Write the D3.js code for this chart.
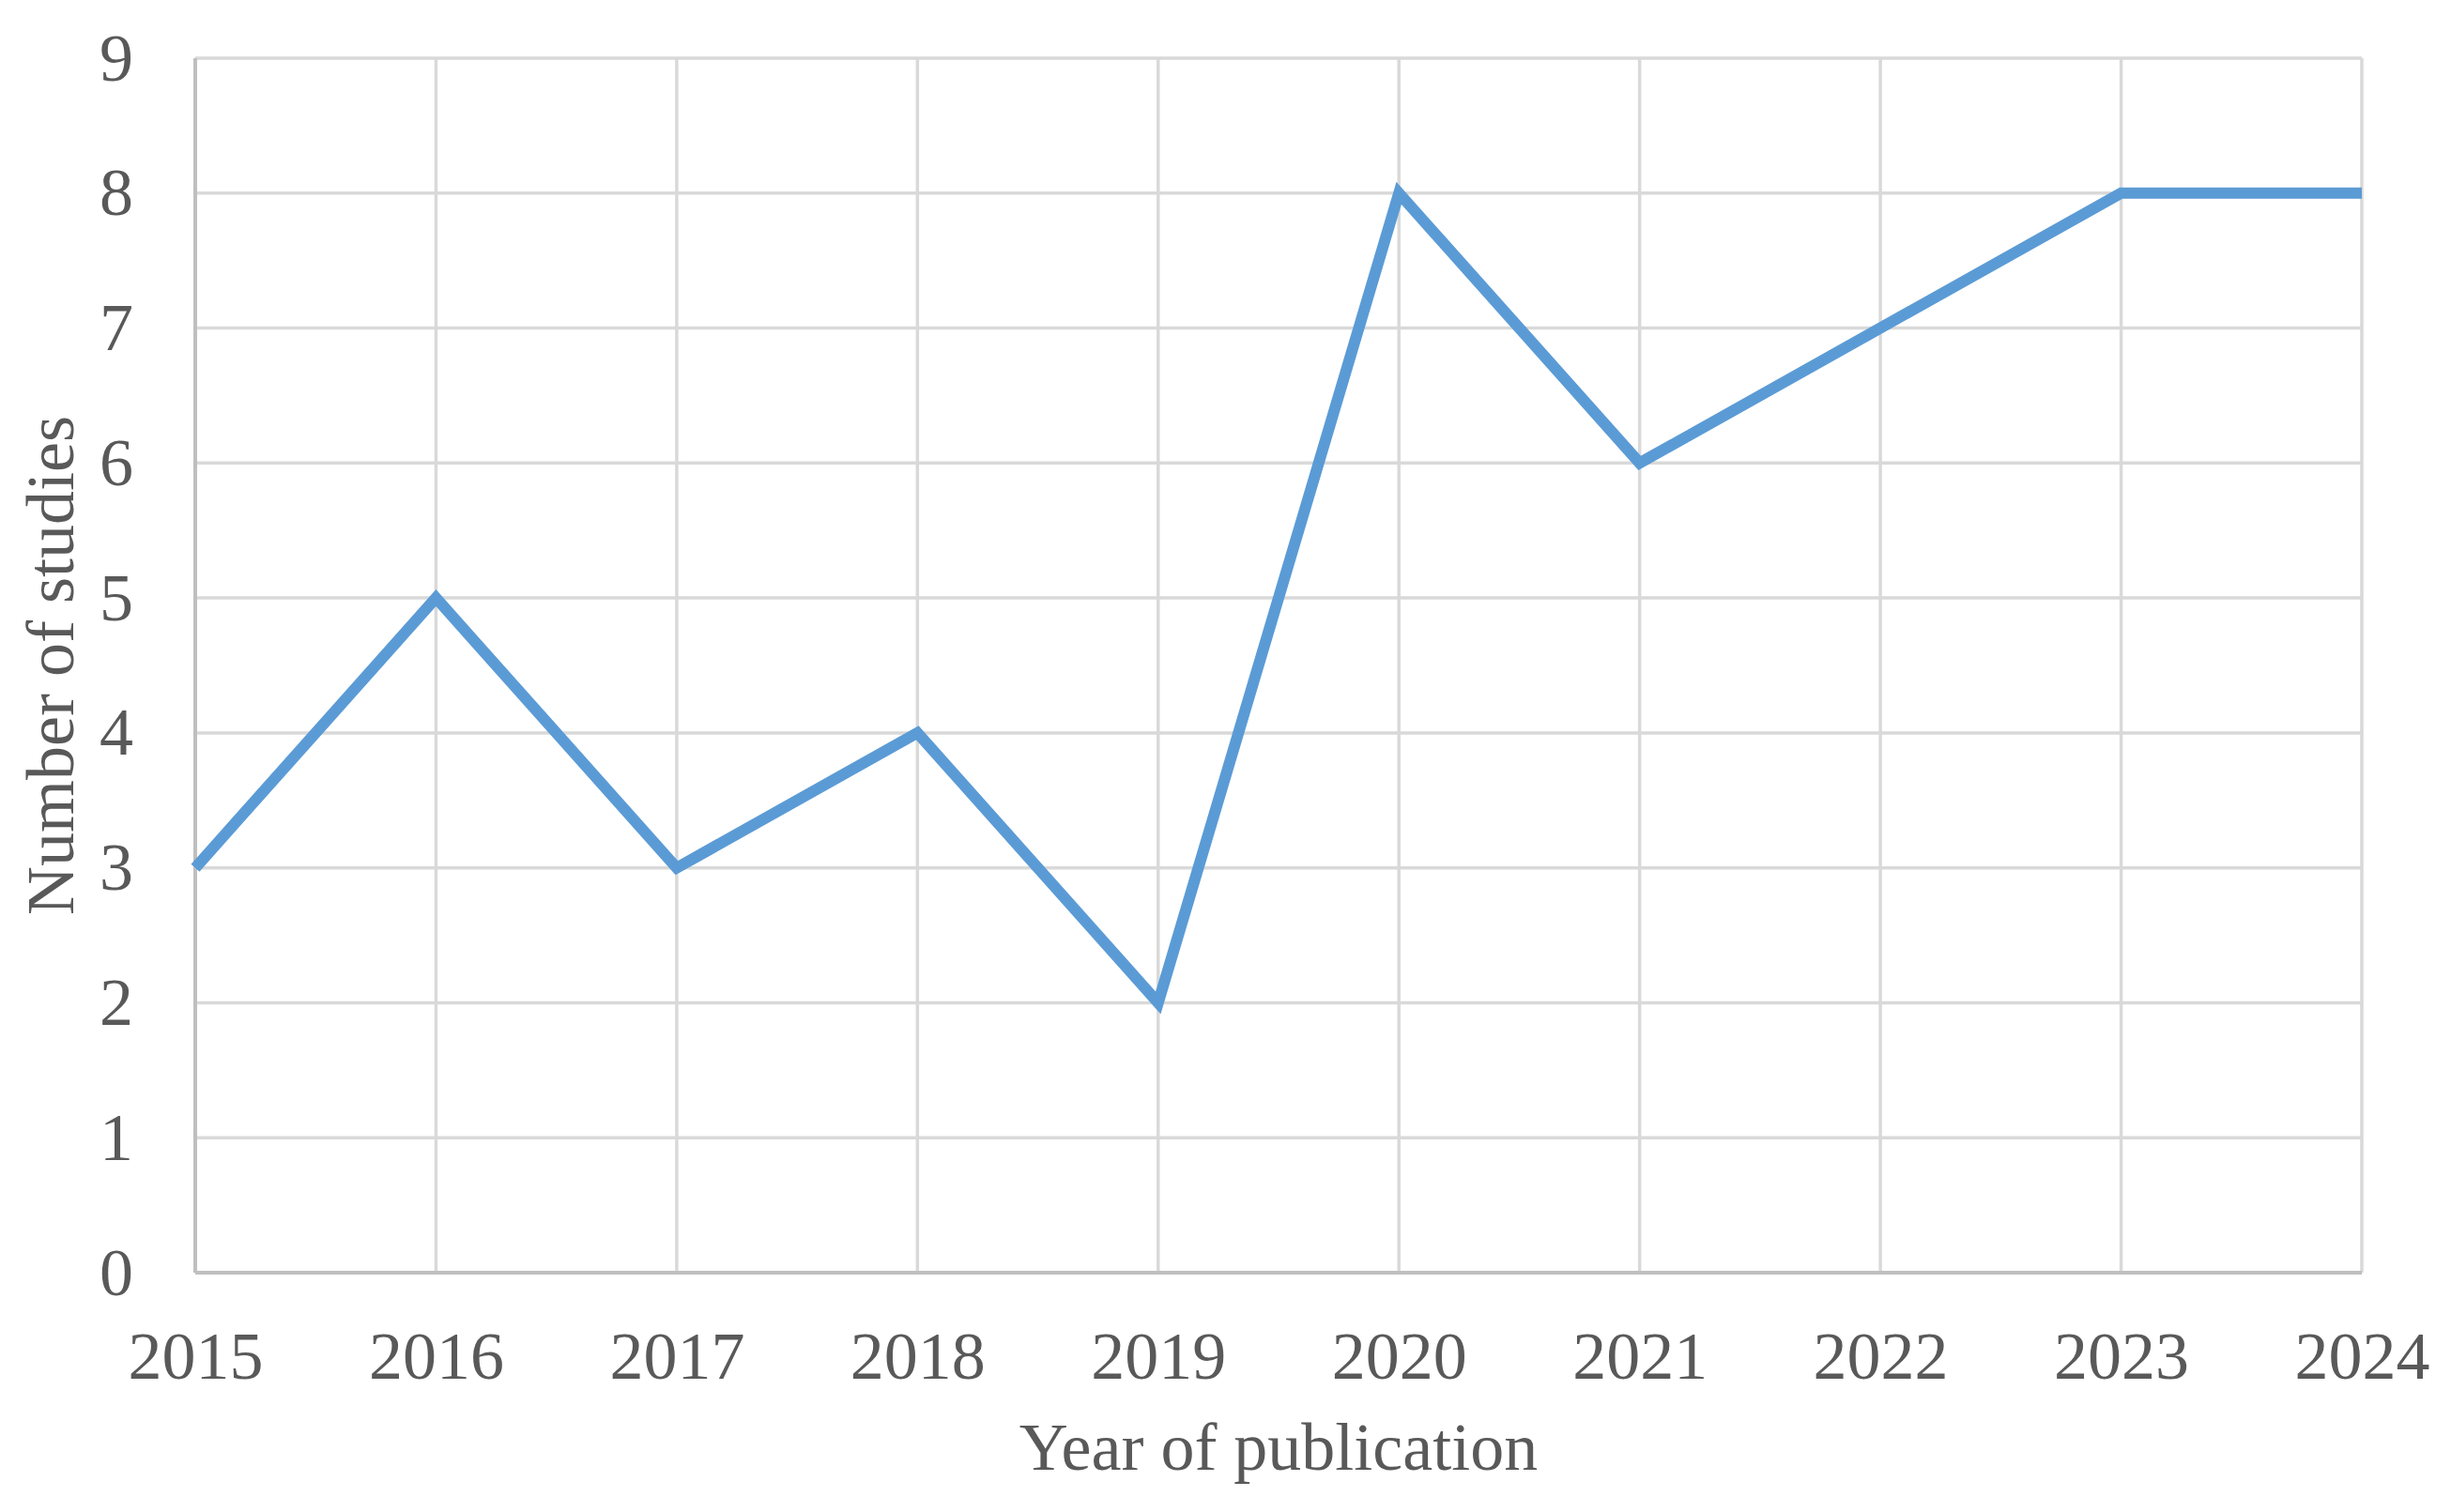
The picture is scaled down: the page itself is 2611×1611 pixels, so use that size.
<!DOCTYPE html>
<html>
<head>
<meta charset="utf-8">
<script src="https://cdn.jsdelivr.net/npm/d3@7"></script>
<style>
  body { margin: 0; background: #fff; }
  text { font-family: "Liberation Serif", "Times New Roman", serif; fill: #595959; }
</style>
</head>
<body>
<svg id="chart" width="2611" height="1611"></svg>
<script>
/* -------------------------------------------------------------------------- */
// data
const years = [2015, 2016, 2017, 2018, 2019, 2020, 2021, 2022, 2023, 2024];
const studies = [3, 5, 3, 4, 2, 8, 6, 7, 8, 8];
const yTicks = [0, 1, 2, 3, 4, 5, 6, 7, 8, 9];
const xTitle = 'Year of publication';
const yTitle = 'Number of studies';

/* -------------------------------------------------------------------------- */
const margin = {top: 62, right: 95, bottom: 255, left: 208};
const width = 2611 - margin.left - margin.right;
const height = 1611 - margin.top - margin.bottom;

let svg = d3.select('#chart');
let g = svg.append('g').attr('transform', `translate(${margin.left},${margin.top})`);

let x = d3.scaleLinear().domain([years[0], years[years.length - 1]]).range([0, width]);
let y = d3.scaleLinear().domain([0, 9]).range([height, 0]);

// grid
g.append('g').selectAll('line.h')
  .data(yTicks.filter(d => d > 0))
  .enter().append('line')
  .attr('x1', 0).attr('x2', width)
  .attr('y1', d => y(d)).attr('y2', d => y(d))
  .attr('stroke', '#d9d9d9').attr('stroke-width', 3.5);

g.append('g').selectAll('line.v')
  .data(years.slice(1))
  .enter().append('line')
  .attr('x1', d => x(d)).attr('x2', d => x(d))
  .attr('y1', 0).attr('y2', height)
  .attr('stroke', '#d9d9d9').attr('stroke-width', 3.5);

// axes lines
g.append('line').attr('x1', 0).attr('x2', 0).attr('y1', 0).attr('y2', height)
  .attr('stroke', '#bfbfbf').attr('stroke-width', 4);
g.append('line').attr('x1', 0).attr('x2', width).attr('y1', height).attr('y2', height)
  .attr('stroke', '#bfbfbf').attr('stroke-width', 4);

// tick labels
let xAxis = g.append('g')
  .attr('transform', `translate(0,${height})`)
  .call(d3.axisBottom(x).tickValues(years).tickFormat(d3.format('d')).tickSize(0).tickPadding(62));
xAxis.select('.domain').remove();
xAxis.selectAll('text').style('font-size', '72px').attr('fill', '#595959');

let yAxis = g.append('g')
  .call(d3.axisLeft(y).tickValues(yTicks).tickSize(0).tickPadding(66));
yAxis.select('.domain').remove();
yAxis.selectAll('text').style('font-size', '72px').attr('fill', '#595959');

// line
let line = d3.line()
  .x((d, i) => x(years[i]))
  .y(d => y(d));

g.append('path')
  .datum(studies)
  .attr('d', line)
  .attr('fill', 'none')
  .attr('stroke', '#5b9bd5')
  .attr('stroke-width', 12)
  .attr('stroke-linejoin', 'miter');

// titles
svg.append('text')
  .attr('x', margin.left + width / 2)
  .attr('y', 1566)
  .attr('text-anchor', 'middle')
  .style('font-size', '72px')
  .text(xTitle);

svg.append('text')
  .attr('transform', `translate(78,${margin.top + height / 2}) rotate(-90)`)
  .attr('text-anchor', 'middle')
  .style('font-size', '72px')
  .text(yTitle);
</script>
</body>
</html>
